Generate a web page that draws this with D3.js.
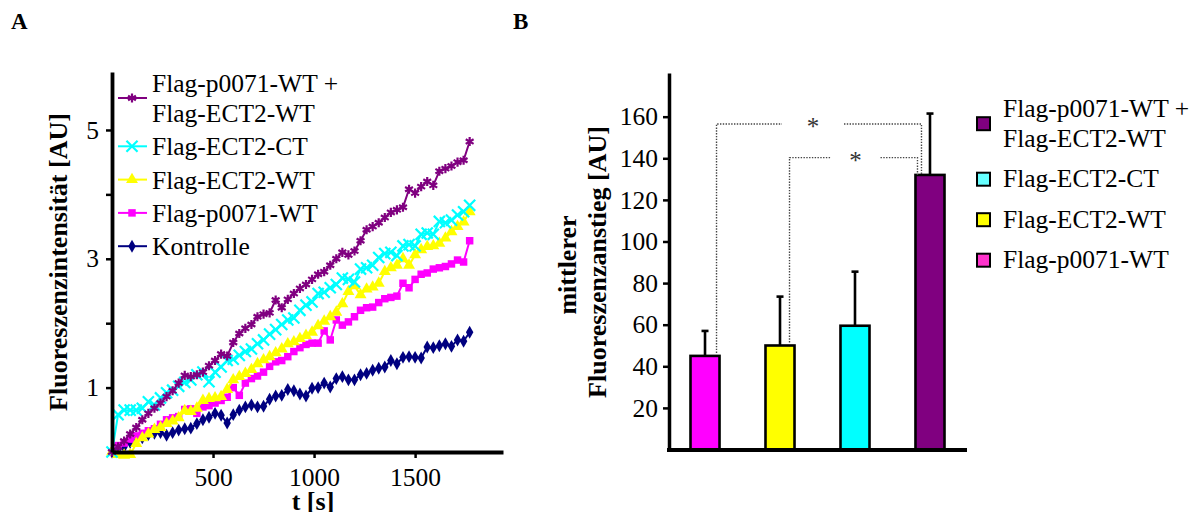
<!DOCTYPE html>
<html>
<head>
<meta charset="utf-8">
<script src="https://cdn.jsdelivr.net/npm/d3@7"></script>
<style>
  html, body { margin: 0; padding: 0; background: #fff; }
  svg { display: block; font-family: "Liberation Serif", "Times New Roman", serif; }
</style>
</head>
<body>
<div id="figure"></div>
<script>
// Panel A: time points (s) and fluorescence intensity per construct.
const times = [0, 30, 60, 90, 120, 150, 180, 210, 240, 270, 300, 330, 360, 390, 420, 450, 480, 510, 540, 570,
  600, 630, 660, 690, 720, 750, 780, 810, 840, 870, 900, 930, 960, 990, 1020, 1050, 1080, 1110, 1140, 1170,
  1200, 1230, 1260, 1290, 1320, 1350, 1380, 1410, 1440, 1470, 1500, 1530, 1560, 1590, 1620, 1650, 1680, 1710, 1740, 1770];

const coExpression = [0.0, 0.08, 0.17, 0.28, 0.38, 0.5, 0.6, 0.68, 0.76, 0.86,
  0.95, 1.07, 1.19, 1.17, 1.2, 1.24, 1.34, 1.42, 1.52, 1.49,
  1.7, 1.84, 1.92, 1.98, 2.1, 2.14, 2.16, 2.36, 2.24, 2.37,
  2.46, 2.54, 2.6, 2.68, 2.76, 2.8, 2.9, 3.0, 3.1, 3.06,
  3.12, 3.28, 3.45, 3.5, 3.56, 3.64, 3.72, 3.76, 3.8, 4.08,
  4.02, 4.12, 4.2, 4.14, 4.36, 4.4, 4.44, 4.5, 4.53, 4.82];

const ect2CT = [0.0, 0.58, 0.65, 0.65, 0.65, 0.68, 0.78, 0.73, 0.84, 0.92,
  0.96, 1.02, 1.08, 1.12, 1.2, 1.24, 1.09, 1.24, 1.32, 1.42,
  1.44, 1.5, 1.56, 1.6, 1.68, 1.74, 1.83, 1.9, 1.98, 2.05,
  2.08, 2.2, 2.28, 2.33, 2.46, 2.48, 2.55, 2.6, 2.7, 2.68,
  2.64, 2.84, 2.86, 2.9, 3.02, 3.08, 3.1, 3.05, 3.2, 3.22,
  3.2, 3.38, 3.4, 3.38, 3.58, 3.56, 3.6, 3.68, 3.73, 3.83];

const ect2WT = [0.0, -0.04, -0.05, -0.04, 0.13, 0.22, 0.28, 0.35, 0.38, 0.44,
  0.48, 0.53, 0.64, 0.63, 0.68, 0.8, 0.83, 0.84, 0.86, 0.97,
  1.12, 1.17, 1.22, 1.28, 1.37, 1.43, 1.48, 1.54, 1.6, 1.68,
  1.71, 1.76, 1.81, 1.86, 1.96, 2.03, 2.1, 2.17, 2.3, 2.49,
  2.58, 2.44, 2.53, 2.56, 2.62, 2.8, 2.86, 2.9, 3.0, 2.9,
  3.06, 3.14, 3.19, 3.2, 3.24, 3.32, 3.42, 3.5, 3.57, 3.73];

const p0071WT = [0.0, 0.1, 0.14, 0.2, 0.25, 0.29, 0.33, 0.36, 0.43, 0.5,
  0.53, 0.55, 0.66, 0.67, 0.6, 0.7, 0.72, 0.76, 0.8, 0.85,
  1.0, 0.88, 1.07, 1.14, 1.18, 1.24, 1.33, 1.4, 1.42, 1.48,
  1.56, 1.62, 1.67, 1.69, 1.69, 1.88, 1.74, 2.05, 1.97, 2.02,
  2.1, 2.2, 2.24, 2.25, 2.32, 2.38, 2.4, 2.42, 2.62, 2.55,
  2.68, 2.76, 2.78, 2.84, 2.86, 2.88, 2.92, 2.98, 2.95, 3.28];

const kontrolle = [0.0, 0.05, 0.08, 0.15, 0.2, 0.22, 0.27, 0.29, 0.3, 0.26,
  0.3, 0.34, 0.36, 0.37, 0.44, 0.5, 0.54, 0.6, 0.57, 0.45,
  0.58, 0.65, 0.7, 0.73, 0.7, 0.71, 0.82, 0.87, 0.88, 0.97,
  0.95, 0.9, 0.87, 0.99, 1.0, 1.07, 1.01, 1.14, 1.17, 1.12,
  1.12, 1.2, 1.22, 1.27, 1.3, 1.32, 1.42, 1.37, 1.47, 1.48,
  1.47, 1.46, 1.63, 1.62, 1.65, 1.68, 1.64, 1.74, 1.72, 1.86];

const lineNames = ['Flag-p0071-WT +\nFlag-ECT2-WT', 'Flag-ECT2-CT', 'Flag-ECT2-WT', 'Flag-p0071-WT', 'Kontrolle'];
const xTicksA = [500, 1000, 1500];
const yTicksA = [1, 2, 3, 4, 5];

// Panel B: mean fluorescence increase with upward error bars.
const barNames = ['Flag-p0071-WT', 'Flag-ECT2-WT', 'Flag-ECT2-CT', 'Flag-p0071-WT + Flag-ECT2-WT'];
const barMeans = [45, 50, 59.5, 132];
const barErrors = [12, 23.5, 26, 29.5];
const yTicksB = [20, 40, 60, 80, 100, 120, 140, 160];
const legendNamesB = ['Flag-p0071-WT +\nFlag-ECT2-WT', 'Flag-ECT2-CT', 'Flag-ECT2-WT', 'Flag-p0071-WT'];
// Significance brackets: bar index pairs and bracket height in AU.
const bracketPairs = [[0, 3], [1, 3]];
const bracketLevels = [156.5, 140.3];

(function(){
  const W = 1204, H = 512;
  const svg = d3.select('#figure').append('svg')
    .attr('width', W).attr('height', H)
    .attr('viewBox', `0 0 ${W} ${H}`);
  svg.append('rect').attr('width', W).attr('height', H).attr('fill', '#fff');

  // Panel letters.
  svg.append('text').attr('x', 11).attr('y', 29).attr('font-size', 23).attr('font-weight', 'bold').text('A');
  svg.append('text').attr('x', 513).attr('y', 29).attr('font-size', 23).attr('font-weight', 'bold').text('B');

  // ---------- Panel A: time courses ----------
  const x = d3.scaleLinear().domain([0, 1935]).range([112, 503]);
  const y = d3.scaleLinear().domain([0, 5.9]).range([452, 72]);

  const styleA = [
    {color: '#800080', symbol: d3.symbolAsterisk, size: 58, stroked: true},
    {color: '#00ffff', symbol: d3.symbolX, size: 82, stroked: true},
    {color: '#ffff00', symbol: d3.symbolTriangle, size: 62, stroked: false},
    {color: '#ff00ff', symbol: d3.symbolSquare, size: 56, stroked: false},
    {color: '#000080', symbol: d3.symbolDiamond, size: 48, stroked: false}
  ];
  const seriesValues = [coExpression, ect2CT, ect2WT, p0071WT, kontrolle];
  const series = lineNames.map((name, i) => ({
    name,
    style: styleA[i],
    points: times.map((t, j) => ({t, v: seriesValues[i][j]}))
  }));

  const gA = svg.append('g').attr('class', 'panel-a');

  const line = d3.line().x(d => x(d.t)).y(d => y(d.v));
  const symbolPath = s => d3.symbol().type(s.symbol).size(s.size)();

  // Draw in reverse legend order so the combination sits on top.
  const drawOrder = series.slice().reverse();
  const seriesG = gA.selectAll('g.series').data(drawOrder).join('g').attr('class', 'series');
  seriesG.append('path')
    .attr('fill', 'none')
    .attr('stroke', d => d.style.color)
    .attr('stroke-width', 2)
    .attr('d', d => line(d.points));
  seriesG.each(function(s){
    d3.select(this).selectAll('path.marker').data(s.points).join('path')
      .attr('class', 'marker')
      .attr('transform', d => `translate(${x(d.t)},${y(d.v)})`)
      .attr('d', symbolPath(s.style))
      .attr('fill', s.style.stroked ? 'none' : s.style.color)
      .attr('stroke', s.style.stroked ? s.style.color : 'none')
      .attr('stroke-width', 2.2);
  });

  // Axes.
  const yAxisA = d3.axisLeft(y).tickValues(yTicksA).tickSize(6).tickSizeOuter(0).tickPadding(7)
    .tickFormat(d => d % 2 ? d : '');
  const xAxisA = d3.axisBottom(x).tickValues(xTicksA).tickSize(6).tickSizeOuter(0)
    .tickFormat(d3.format('d'));

  const yaG = gA.append('g').attr('transform', 'translate(112,0)').call(yAxisA);
  const xaG = gA.append('g').attr('transform', 'translate(0,452)').call(xAxisA);
  [yaG, xaG].forEach(g => {
    g.select('.domain').attr('stroke', '#000').attr('stroke-width', 3.8);
    g.selectAll('.tick line').attr('stroke', '#000').attr('stroke-width', 2.5);
    g.selectAll('.tick text').attr('fill', '#000').attr('font-size', 25.5)
      .attr('font-family', '"Liberation Serif", "Times New Roman", serif');
  });
  xaG.selectAll('.tick text').attr('y', 34).attr('dy', 0);

  gA.append('text')
    .attr('transform', 'translate(67,262) rotate(-90)')
    .attr('text-anchor', 'middle')
    .attr('font-size', 26).attr('font-weight', 'bold')
    .text('Fluoreszenzintensität [AU]');

  gA.append('text')
    .attr('x', 313).attr('y', 510)
    .attr('text-anchor', 'middle')
    .attr('font-size', 26).attr('font-weight', 'bold')
    .text('t [s]');

  // Legend inside the plot, top left.
  let base = 92;
  series.forEach(s => {
    const lines = s.name.split('\n');
    const sy = base + (lines.length - 1) * 15 - 9;
    const lg = gA.append('g').attr('class', 'legend-a');
    lg.append('line').attr('x1', 118).attr('x2', 147).attr('y1', sy).attr('y2', sy)
      .attr('stroke', s.style.color).attr('stroke-width', 2);
    lg.append('path').attr('transform', `translate(132,${sy})`)
      .attr('d', symbolPath(s.style))
      .attr('fill', s.style.stroked ? 'none' : s.style.color)
      .attr('stroke', s.style.stroked ? s.style.color : 'none')
      .attr('stroke-width', 2.2);
    const tx = lg.append('text').attr('x', 152).attr('font-size', 25.5);
    lines.forEach((l, i) => tx.append('tspan').attr('x', 152).attr('y', base + i * 30).text(l));
    base += (lines.length - 1) * 30 + 33.3;
  });

  // ---------- Panel B: bar chart ----------
  const xb = d3.scaleBand().domain(barNames).range([667.5, 967.5]).paddingInner(0.613).paddingOuter(0.3067);
  const yb = d3.scaleLinear().domain([0, 181]).range([449.5, 73]);
  const barColors = ['#ff00ff', '#ffff00', '#00ffff', '#800080'];
  const legendColors = ['#800080', '#66ffff', '#ffff00', '#ff33cc'];

  const gB = svg.append('g').attr('class', 'panel-b');
  const bars = barNames.map((name, i) => ({name, mean: barMeans[i], err: barErrors[i], color: barColors[i]}));

  // Error bars (upper only) first, so the bar outline covers the joint.
  const eb = gB.selectAll('g.err').data(bars).join('g').attr('class', 'err');
  eb.append('line')
    .attr('x1', d => xb(d.name) + xb.bandwidth() / 2).attr('x2', d => xb(d.name) + xb.bandwidth() / 2)
    .attr('y1', d => yb(d.mean)).attr('y2', d => yb(d.mean + d.err))
    .attr('stroke', '#000').attr('stroke-width', 2.6);
  eb.append('line')
    .attr('x1', d => xb(d.name) + xb.bandwidth() / 2 - 3.5).attr('x2', d => xb(d.name) + xb.bandwidth() / 2 + 3.5)
    .attr('y1', d => yb(d.mean + d.err)).attr('y2', d => yb(d.mean + d.err))
    .attr('stroke', '#000').attr('stroke-width', 2.6);

  gB.selectAll('rect.bar').data(bars).join('rect')
    .attr('class', 'bar')
    .attr('x', d => xb(d.name)).attr('width', xb.bandwidth())
    .attr('y', d => yb(d.mean)).attr('height', d => yb(0) - yb(d.mean))
    .attr('fill', d => d.color)
    .attr('stroke', '#000').attr('stroke-width', 2.6);

  // Dotted significance brackets with a centred asterisk.
  bracketPairs.forEach(([a, b], i) => {
    const level = yb(bracketLevels[i]);
    const xa = xb(barNames[a]) + xb.bandwidth() - (i === 0 ? 3 : 5);
    const xr = xb(barNames[b]) + (i === 0 ? 6 : 2);
    const ya = yb(barMeans[a]) - 3;
    const yr = yb(barMeans[b]);
    const mid = (xa + xr) / 2 - (i === 0 ? 6 : -2);
    const gap = i === 0 ? 31 : 25;
    const bg = gB.append('g').attr('class', 'bracket')
      .attr('fill', 'none').attr('stroke', '#444').attr('stroke-width', 1.4).attr('stroke-dasharray', '1.4,1.4');
    bg.append('path').attr('d', `M${xa},${ya}V${level}H${mid - gap}`);
    bg.append('path').attr('d', `M${mid + gap},${level}H${xr}V${yr}`);
    gB.append('text').attr('x', mid).attr('y', level + 11)
      .attr('text-anchor', 'middle').attr('font-size', 25).attr('fill', '#333').text('*');
  });

  const yAxisB = d3.axisLeft(yb).tickValues(yTicksB).tickSize(6).tickSizeOuter(0).tickPadding(5);
  const yBG = gB.append('g').attr('transform', 'translate(669,0)').call(yAxisB);
  yBG.select('.domain').attr('stroke', '#000').attr('stroke-width', 3.5);
  yBG.selectAll('.tick line').attr('stroke', '#000').attr('stroke-width', 2.5);
  yBG.selectAll('.tick text').attr('fill', '#000').attr('font-size', 25.5)
    .attr('font-family', '"Liberation Serif", "Times New Roman", serif');

  gB.append('line').attr('x1', 667).attr('x2', 967).attr('y1', yb(0) + 0.5).attr('y2', yb(0) + 0.5)
    .attr('stroke', '#000').attr('stroke-width', 3.8);

  const titleB = gB.append('text').attr('font-size', 26).attr('font-weight', 'bold').attr('text-anchor', 'middle');
  titleB.append('tspan').attr('x', -265).attr('y', 576).text('mittlerer');
  titleB.append('tspan').attr('x', -262).attr('y', 606).text('Fluoreszenzanstieg [AU]');
  titleB.attr('transform', 'rotate(-90)');

  // Legend to the right of the bars.
  let baseB = 116.7;
  legendNamesB.forEach((name, i) => {
    const lines = name.split('\n');
    const cy = baseB + (lines.length - 1) * 15 - 8;
    gB.append('rect').attr('x', 977).attr('y', cy - 6.5).attr('width', 13).attr('height', 13)
      .attr('fill', legendColors[i]).attr('stroke', '#000').attr('stroke-width', 2);
    const tx = gB.append('text').attr('font-size', 25.5);
    lines.forEach((l, j) => tx.append('tspan').attr('x', 1003).attr('y', baseB + j * 30).text(l));
    baseB += (lines.length - 1) * 30 + 40.5;
  });
})();
</script>
</body>
</html>
